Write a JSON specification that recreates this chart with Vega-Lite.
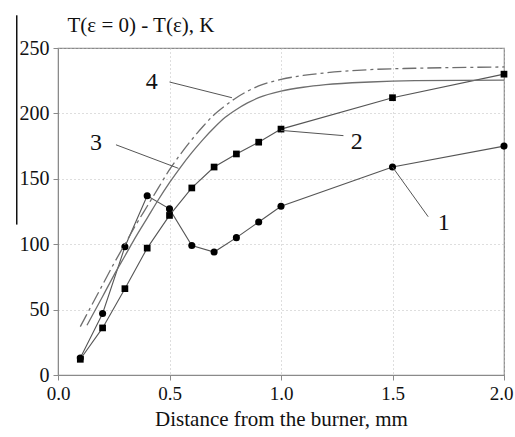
{
  "$schema": "https://vega.github.io/schema/vega-lite/v6.json",
  "width": 446,
  "height": 327,
  "autosize": {"type": "none"},
  "padding": {"left": 58, "top": 48, "right": 11, "bottom": 62},
  "background": "white",
  "config": {
    "view": {"stroke": "#8a8a8a", "strokeWidth": 1.2},
    "font": "Liberation Serif",
    "axis": {
      "domainColor": "#8a8a8a",
      "tickColor": "#8a8a8a",
      "gridColor": "#bdbdbd",
      "gridDash": [1, 3],
      "gridWidth": 1
    }
  },
  "datasets": {
    "s1": [
      {"x": 0.1, "y": 13}, {"x": 0.2, "y": 47}, {"x": 0.3, "y": 98}, {"x": 0.4, "y": 137},
      {"x": 0.5, "y": 127}, {"x": 0.6, "y": 99}, {"x": 0.7, "y": 94}, {"x": 0.8, "y": 105},
      {"x": 0.9, "y": 117}, {"x": 1.0, "y": 129}, {"x": 1.5, "y": 159}, {"x": 2.0, "y": 175}
    ],
    "s2": [
      {"x": 0.1, "y": 12}, {"x": 0.2, "y": 36}, {"x": 0.3, "y": 66}, {"x": 0.4, "y": 97},
      {"x": 0.5, "y": 122}, {"x": 0.6, "y": 143}, {"x": 0.7, "y": 159}, {"x": 0.8, "y": 169},
      {"x": 0.9, "y": 178}, {"x": 1.0, "y": 188}, {"x": 1.5, "y": 212}, {"x": 2.0, "y": 230}
    ],
    "c3": [
      {"x": 0.13, "y": 38}, {"x": 0.2, "y": 60}, {"x": 0.25, "y": 76}, {"x": 0.3, "y": 91},
      {"x": 0.35, "y": 106}, {"x": 0.4, "y": 120}, {"x": 0.45, "y": 134}, {"x": 0.5, "y": 147},
      {"x": 0.55, "y": 159}, {"x": 0.6, "y": 170}, {"x": 0.65, "y": 180}, {"x": 0.7, "y": 189},
      {"x": 0.75, "y": 197}, {"x": 0.8, "y": 203}, {"x": 0.85, "y": 208}, {"x": 0.9, "y": 212},
      {"x": 1.0, "y": 217}, {"x": 1.1, "y": 220}, {"x": 1.2, "y": 222}, {"x": 1.4, "y": 224},
      {"x": 1.6, "y": 225}, {"x": 2.0, "y": 225.5}
    ],
    "c4": [
      {"x": 0.1, "y": 37}, {"x": 0.15, "y": 53}, {"x": 0.2, "y": 69}, {"x": 0.25, "y": 85},
      {"x": 0.3, "y": 100}, {"x": 0.35, "y": 115}, {"x": 0.4, "y": 129}, {"x": 0.45, "y": 143},
      {"x": 0.5, "y": 157}, {"x": 0.55, "y": 169}, {"x": 0.6, "y": 180}, {"x": 0.65, "y": 190},
      {"x": 0.7, "y": 199}, {"x": 0.75, "y": 206}, {"x": 0.8, "y": 212}, {"x": 0.85, "y": 217},
      {"x": 0.9, "y": 221}, {"x": 1.0, "y": 226}, {"x": 1.1, "y": 229}, {"x": 1.2, "y": 231},
      {"x": 1.4, "y": 233.5}, {"x": 1.6, "y": 234.5}, {"x": 2.0, "y": 235.5}
    ],
    "leaders": [
      {"x": 0.5, "y": 224, "x2": 0.78, "y2": 212},
      {"x": 0.26, "y": 176, "x2": 0.54, "y2": 158},
      {"x": 1.0, "y": 187, "x2": 1.28, "y2": 183},
      {"x": 1.5, "y": 159, "x2": 1.66, "y2": 121}
    ],
    "frameline": [
      {"x": -0.185, "y": 115, "y2": 275}
    ],
    "labels": [
      {"x": 0.42, "y": 224, "t": "4"},
      {"x": 0.17, "y": 177, "t": "3"},
      {"x": 1.34, "y": 178, "t": "2"},
      {"x": 1.73, "y": 116, "t": "1"}
    ]
  },
  "layer": [
    {
      "data": {"name": "s1"},
      "mark": {"type": "line", "color": "#555", "strokeWidth": 1.1},
      "encoding": {
        "x": {
          "field": "x", "type": "quantitative",
          "scale": {"domain": [0, 2], "nice": false},
          "axis": {
            "values": [0, 0.5, 1, 1.5, 2], "format": ".1f",
            "title": "Distance from the burner, mm",
            "labelFont": "Liberation Serif", "titleFont": "Liberation Serif",
            "labelColor": "#111", "titleColor": "#111",
            "labelFontSize": 19, "titleFontSize": 21, "titleFontWeight": "normal",
            "labelFlush": false,
            "labelOffset": {"condition": {"test": "datum.value === 2", "value": -3}, "value": 0},
            "labelPadding": 4, "tickSize": 5, "titlePadding": 5, "grid": true
          }
        },
        "y": {
          "field": "y", "type": "quantitative",
          "scale": {"domain": [0, 250], "nice": false},
          "axis": {
            "values": [0, 50, 100, 150, 200, 250],
            "title": "T(ε = 0) - T(ε), K",
            "labelFont": "Liberation Serif", "titleFont": "Liberation Serif",
            "labelColor": "#111", "titleColor": "#111",
            "titleAngle": 0, "titleAlign": "left", "titleBaseline": "middle",
            "titleX": 9, "titleY": -23, "titleFontSize": 21, "titleFontWeight": "normal",
            "labelFontSize": 20, "labelFlush": false, "tickSize": 5, "labelPadding": 4, "grid": true
          }
        }
      }
    },
    {
      "data": {"name": "s1"},
      "mark": {"type": "point", "shape": "circle", "filled": true, "color": "black", "size": 50, "opacity": 1},
      "encoding": {"x": {"field": "x", "type": "quantitative"}, "y": {"field": "y", "type": "quantitative"}}
    },
    {
      "data": {"name": "s2"},
      "mark": {"type": "line", "color": "#555", "strokeWidth": 1.1},
      "encoding": {"x": {"field": "x", "type": "quantitative"}, "y": {"field": "y", "type": "quantitative"}}
    },
    {
      "data": {"name": "s2"},
      "mark": {"type": "point", "shape": "square", "filled": true, "color": "black", "size": 45, "opacity": 1},
      "encoding": {"x": {"field": "x", "type": "quantitative"}, "y": {"field": "y", "type": "quantitative"}}
    },
    {
      "data": {"name": "c3"},
      "mark": {"type": "line", "color": "#6e6e6e", "strokeWidth": 1.3, "interpolate": "monotone"},
      "encoding": {"x": {"field": "x", "type": "quantitative"}, "y": {"field": "y", "type": "quantitative"}}
    },
    {
      "data": {"name": "c4"},
      "mark": {"type": "line", "color": "#6e6e6e", "strokeWidth": 1.3, "interpolate": "monotone", "strokeDash": [14, 4, 3, 4]},
      "encoding": {"x": {"field": "x", "type": "quantitative"}, "y": {"field": "y", "type": "quantitative"}}
    },
    {
      "data": {"name": "leaders"},
      "mark": {"type": "rule", "color": "#555", "strokeWidth": 1},
      "encoding": {
        "x": {"field": "x", "type": "quantitative"}, "y": {"field": "y", "type": "quantitative"},
        "x2": {"field": "x2"}, "y2": {"field": "y2"}
      }
    },
    {
      "data": {"name": "frameline"},
      "mark": {"type": "rule", "color": "#111", "strokeWidth": 1.5, "clip": false},
      "encoding": {
        "x": {"field": "x", "type": "quantitative"}, "y": {"field": "y", "type": "quantitative"},
        "y2": {"field": "y2"}
      }
    },
    {
      "data": {"name": "labels"},
      "mark": {"type": "text", "font": "Liberation Serif", "fontSize": 24, "color": "#111", "align": "center", "baseline": "middle"},
      "encoding": {
        "x": {"field": "x", "type": "quantitative"}, "y": {"field": "y", "type": "quantitative"},
        "text": {"field": "t"}
      }
    }
  ]
}
